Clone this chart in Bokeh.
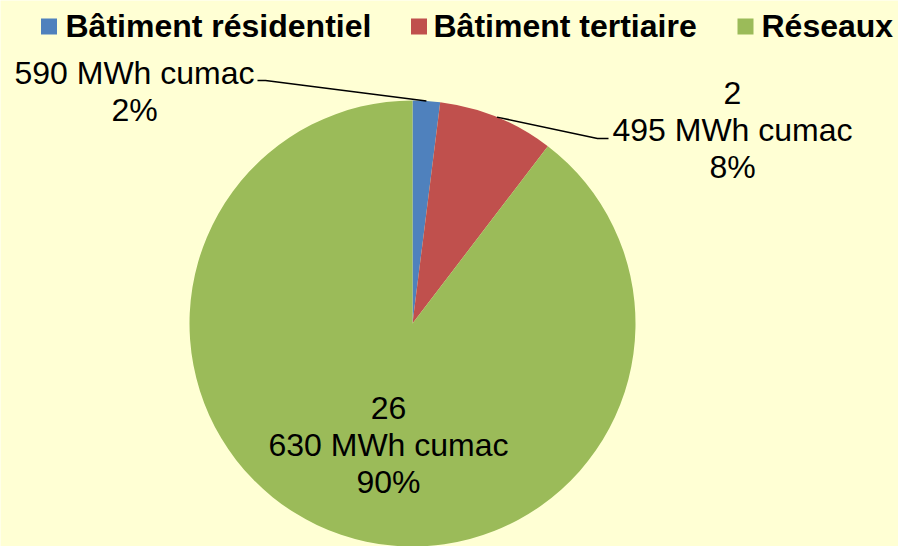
import numpy as np
from bokeh.plotting import figure
from bokeh.models import Range1d
from bokeh.core.properties import value
from bokeh.embed import file_html
from bokeh.resources import INLINE

categories = ["Bâtiment résidentiel", "Bâtiment tertiaire", "Réseaux"]
values_mwh = [590, 2495, 26630]
colors = ["#4F81BD", "#C0504D", "#9BBB59"]
unit = "MWh cumac"

W, H = 898, 546
OFF = 0
BG = "#FFFFD4"
FONT = "Liberation Sans"
TEXT_SHIFT = -10

def fx(xp):
    return xp - OFF

def fy(yp):
    return H - (yp - OFF)

p = figure(width=W, height=H, output_backend="svg", toolbar_location=None,
           x_range=Range1d(0, W), y_range=Range1d(0, H), min_border=0)
p.axis.visible = False
p.grid.visible = False
p.outline_line_color = None
p.background_fill_color = BG
p.border_fill_color = BG

vals = np.array(values_mwh, dtype=float)
total = vals.sum()
frac = vals / total
cum = np.concatenate([[0], np.cumsum(frac)])
start = np.pi / 2 - 2 * np.pi * cum[:-1]
end = np.pi / 2 - 2 * np.pi * cum[1:]

cx, cy, r = fx(412), fy(323), 223
p.wedge(x=cx, y=cy, radius=r, start_angle=start, end_angle=end,
        direction="clock", fill_color=colors, line_color=None)

def fmt(v):
    return f"{v:,}".replace(",", " ").split(" ")

pct = [f"{round(f * 100):.0f}%" for f in frac]
label_lines = []
for v, pc in zip(values_mwh, pct):
    parts = fmt(v)
    if len(parts) > 1:
        lines = [" ".join(parts[:-1]), parts[-1] + " " + unit, pc]
    else:
        lines = [parts[0] + " " + unit, pc]
    label_lines.append(lines)

# label positions (centre x, first baseline y) in page pixels
label_pos = [(134, 82), (732, 102), (388, 417)]
line_step = 37
for lines, (lx, ly) in zip(label_lines, label_pos):
    xs = [fx(lx)] * len(lines)
    ys = [fy(ly + TEXT_SHIFT + i * line_step) for i in range(len(lines))]
    p.text(x=xs, y=ys, text=lines, text_font=value(FONT), text_font_size="32px",
           text_align="center", text_baseline="alphabetic", text_color="black")

# leader lines from slice mid-points
mid = (start + end) / 2
ax = cx + r * np.cos(mid)
ay = cy + r * np.sin(mid)
p.line(x=[ax[0], fx(265), fx(257)], y=[ay[0], fy(80), fy(80)], line_color="black", line_width=1.5)
p.line(x=[ax[1], fx(597), fx(608)], y=[ay[1], fy(138), fy(138)], line_color="black", line_width=1.5)

# legend
sq_x = [48.5, 418.5, 745]
tx = [65, 433, 761]
p.rect(x=[fx(v) for v in sq_x], y=[fy(26)] * 3, width=16, height=16,
       fill_color=colors, line_color=None)
p.text(x=[fx(v) for v in tx], y=[fy(37 - 12)] * 3, text=categories, text_font=value(FONT),
       text_font_size="32px", text_font_style="bold", text_align="left",
       text_baseline="alphabetic", text_color="black")

open("out.html", "w").write(file_html(p, INLINE))
